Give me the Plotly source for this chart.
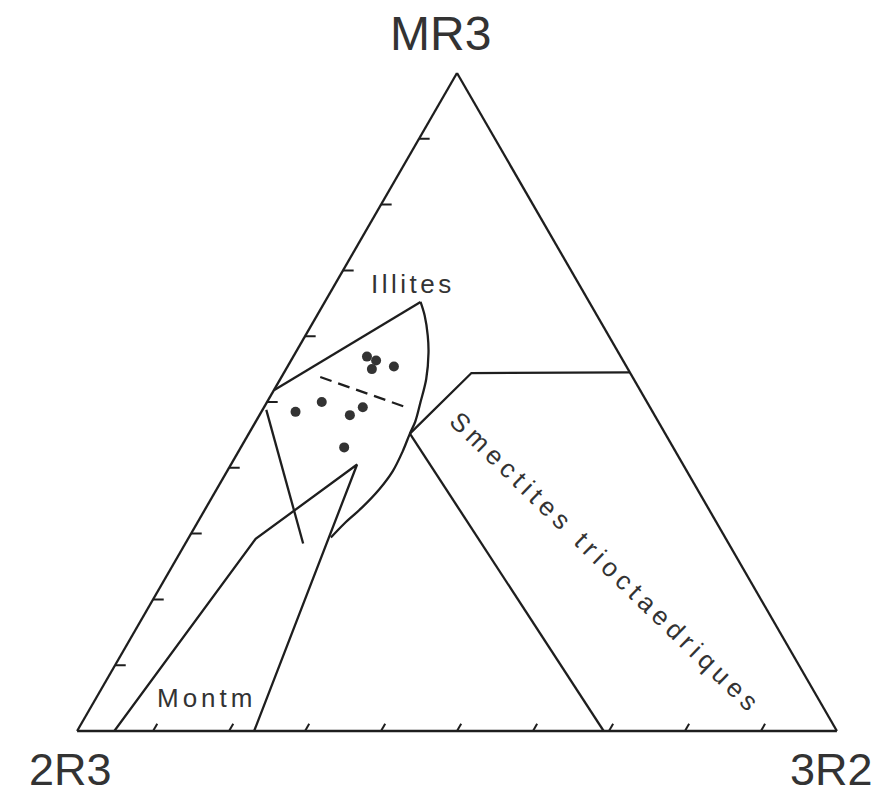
import plotly.graph_objects as go

# ternary values in percent: MR3 = top apex, 2R3 = left apex, 3R2 = right apex
# (2R3 is always 100 - MR3 - 3R2)
dots_mr3 = [56.9, 56.3, 55.0, 55.4, 50.0, 48.5, 48.0, 49.2, 43.1]
dots_3r2 = [9.7, 11.2, 11.3, 14.0, 7.2, 4.5, 11.9, 13.0, 13.6]

illite_top_mr3 = [51.8, 65.2]
illite_top_3r2 = [0.0, 12.6]

illite_curve_mr3 = [65.2, 63.1, 60.1, 57.5, 53.5, 50.0, 47.0, 45.2, 42.5, 39.5, 36.7, 33.9, 31.5, 29.4]
illite_curve_3r2 = [12.6, 14.2, 16.1, 17.5, 19.2, 20.2, 21.0, 21.2, 21.6, 21.8, 21.4, 20.5, 19.4, 18.7]

illite_dash_mr3 = [53.8, 49.2]
illite_dash_3r2 = [5.1, 18.7]

inner_seg_mr3 = [48.8, 28.5]
inner_seg_3r2 = [0.5, 15.5]

montm_mr3 = [0.0, 29.2, 40.5, 0.0]
montm_3r2 = [4.9, 8.9, 16.6, 23.3]

smect_top_mr3 = [45.2, 54.4, 54.5]
smect_top_3r2 = [21.2, 24.7, 45.5]
smect_low_mr3 = [45.2, 0.0]
smect_low_3r2 = [21.2, 69.3]

tick_values = [10, 20, 30, 40, 50, 60, 70, 80, 90]

INK = "#1e1e1e"
TXT = "#333333"
FONT = "Liberation Sans, Arial, sans-serif"
W, H = 890, 797
ML, MR, MT, MB = 77, 53, 73, 66


def tern(mr3, r3r2, **kw):
    return go.Scatterternary(
        a=mr3, c=r3r2,
        b=[None if (m is None) else 100 - m - c for m, c in zip(mr3, r3r2)],
        showlegend=False, hoverinfo="skip", cliponaxis=False, **kw)


def line(mr3, r3r2, dash="solid", shape="linear"):
    return tern(mr3, r3r2, mode="lines",
                line=dict(color=INK, width=2.3, dash=dash, shape=shape))


fig = go.Figure()

fig.add_trace(line(illite_top_mr3, illite_top_3r2))
fig.add_trace(line(illite_curve_mr3, illite_curve_3r2, shape="spline"))
fig.add_trace(line(illite_dash_mr3, illite_dash_3r2, dash="12px,7px"))
fig.add_trace(line(inner_seg_mr3, inner_seg_3r2))
fig.add_trace(line(montm_mr3, montm_3r2))
fig.add_trace(line(smect_top_mr3, smect_top_3r2))
fig.add_trace(line(smect_low_mr3, smect_low_3r2))

# tick marks: horizontal on the left side (MR3), "/" on the base (3R2)
tl_a, tl_c, tb_a, tb_c = [], [], [], []
for t in tick_values:
    tl_a += [t, t, None]
    tl_c += [0, 1.4, None]
    tb_a += [0, 1.1, None]
    tb_c += [t, t, None]
for aa, cc in [(tl_a, tl_c), (tb_a, tb_c)]:
    fig.add_trace(go.Scatterternary(
        a=aa, c=cc,
        b=[None if x is None else 100 - x - y for x, y in zip(aa, cc)],
        mode="lines", line=dict(color=INK, width=2), connectgaps=False,
        showlegend=False, hoverinfo="skip", cliponaxis=False))

fig.add_trace(tern(dots_mr3, dots_3r2, mode="markers",
                   marker=dict(size=10, color="#333333")))

axis = dict(min=0, showgrid=False, showticklabels=False, ticks="",
            linecolor=INK, linewidth=2.3, showline=True,
            title=dict(text=""))

fig.update_layout(
    width=W, height=H,
    margin=dict(l=ML, r=MR, t=MT, b=MB),
    paper_bgcolor="white",
    ternary=dict(sum=100, bgcolor="white",
                 aaxis=axis, baxis=axis, caxis=axis),
)


def px(x, y):
    return (x - ML) / (W - ML - MR), (H - MB - y) / (H - MT - MB)


def label(text, x, y, size, spacing=0, angle=0):
    xp, yp = px(x, y)
    if spacing:
        text = f'<span style="letter-spacing:{spacing}px">{text}</span>'
    fig.add_annotation(
        x=xp, y=yp, xref="paper", yref="paper", showarrow=False,
        text=text, textangle=angle, xanchor="center", yanchor="middle",
        font=dict(family=FONT, size=size, color=TXT))


# apex labels
label("MR3", 440, 34, 48)
label("2R3", 70, 769, 45)
label("3R2", 831, 769, 45)

# field labels
label("Illites", 413, 284, 26, 3.5)
label("Montm", 206, 698, 26, 4)
label("Smectites trioctaedriques", 606, 563, 26, 5.2, angle=44)

fig.write_html("out.html", config={"displayModeBar": False},
               post_script="document.body.style.margin='0';")
